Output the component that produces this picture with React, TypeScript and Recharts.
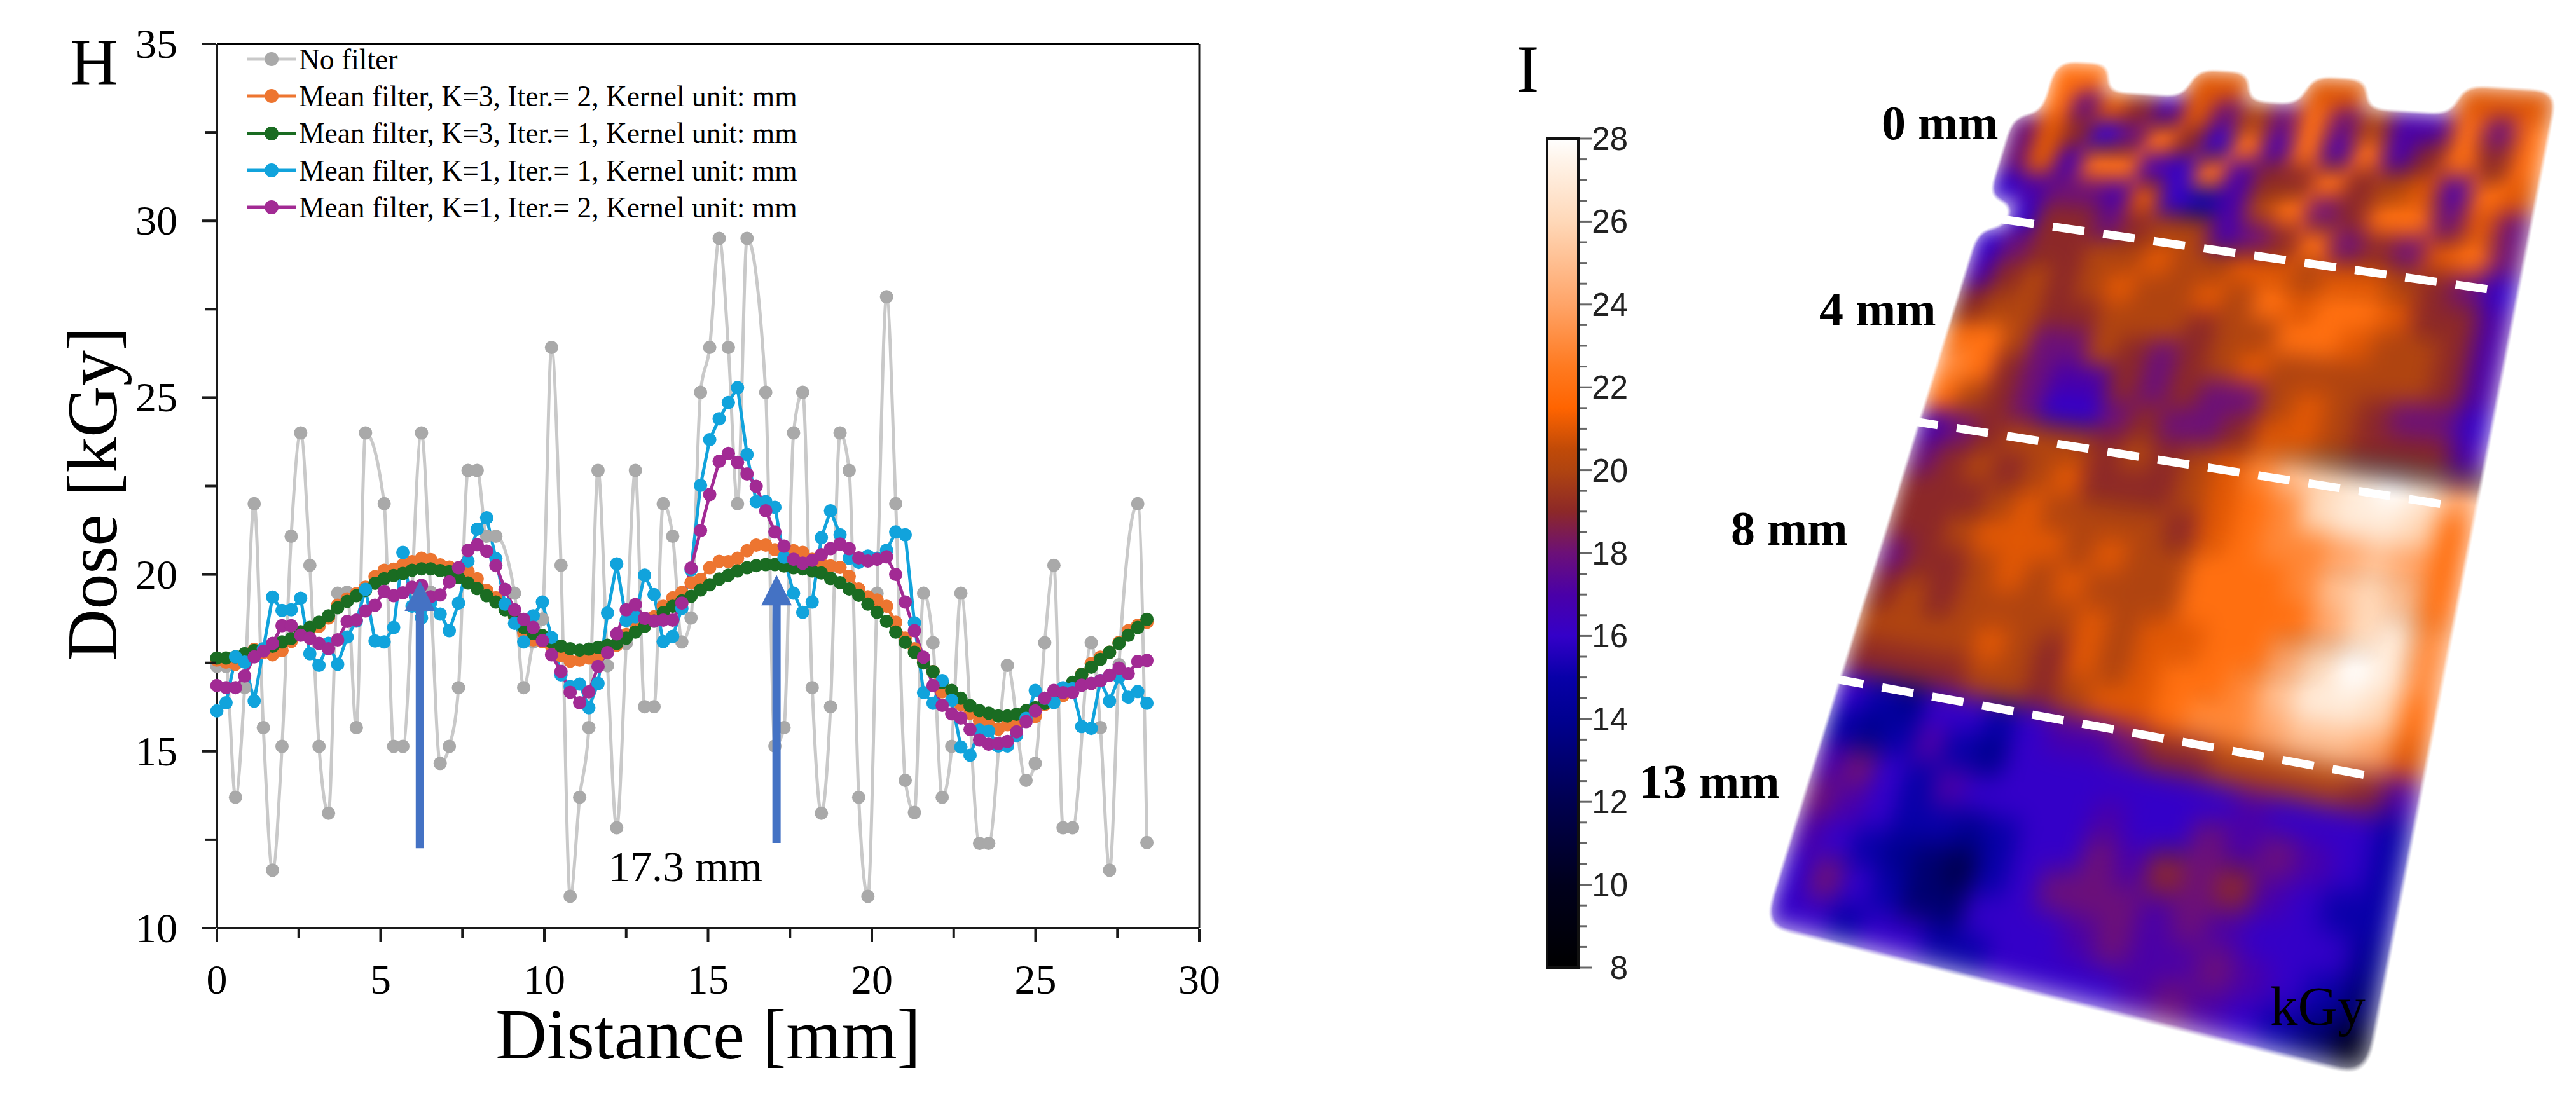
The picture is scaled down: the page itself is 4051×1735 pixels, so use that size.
import {
  BarChart, Bar, LineChart, Line, ScatterChart, Scatter, XAxis, YAxis, Legend,
  ReferenceLine, ReferenceDot, Label,
} from 'recharts';

const distance = [0, 0.28, 0.57, 0.85, 1.14, 1.42, 1.7, 1.99, 2.27, 2.56, 2.84, 3.12, 3.41, 3.69, 3.98, 4.26, 4.54, 4.83, 5.11, 5.4, 5.68, 5.96, 6.25, 6.53, 6.82, 7.1, 7.38, 7.67, 7.95, 8.24, 8.52, 8.8, 9.09, 9.37, 9.66, 9.94, 10.22, 10.51, 10.79, 11.08, 11.36, 11.64, 11.93, 12.21, 12.5, 12.78, 13.06, 13.35, 13.63, 13.92, 14.2, 14.48, 14.77, 15.05, 15.34, 15.62, 15.9, 16.19, 16.47, 16.76, 17.04, 17.32, 17.61, 17.89, 18.18, 18.46, 18.74, 19.03, 19.31, 19.6, 19.88, 20.16, 20.45, 20.73, 21.02, 21.3, 21.58, 21.87, 22.15, 22.44, 22.72, 23, 23.29, 23.57, 23.86, 24.14, 24.42, 24.71, 24.99, 25.28, 25.56, 25.84, 26.13, 26.41, 26.7, 26.98, 27.26, 27.55, 27.83, 28.12, 28.4];

// null = marker not visible in the figure, line just runs over it
const noFilter = [17.4, 17.4, 13.7, 16.8, 22, 15.67, 11.64, 15.14, 21.08, 24, 20.26, 15.14, 13.25, 19.47, 19.5, 15.67, 24, null, 22, 15.14, 15.14, null, 24, 19.5, 14.66, 15.14, 16.8, 22.94, 22.94, 21.08, 21.08, null, 19.47, 16.8, 18.09, 18.74, 26.42, 20.26, 10.9, 13.7, 15.67, 22.94, 17.42, 12.84, 18.05, 22.94, 16.26, 16.26, 22, 21.08, 18.09, 18.77, 25.15, 26.42, 29.5, 26.42, 22, 29.5, null, 25.15, 15.15, 15.67, 24, 25.15, 16.8, 13.25, 16.26, 24, 22.94, 13.7, 10.9, 19.47, 27.85, 22, 14.18, 13.27, 19.47, 18.07, 13.7, 15.14, 19.47, null, 12.4, 12.4, null, 17.43, null, 14.18, 14.66, 18.07, 20.26, 12.84, 12.84, null, 18.07, 15.67, 11.64, 17.45, null, 22, 12.42];

const meanK3Iter2 = [17.58, 17.52, 17.46, 17.67, 17.88, 17.79, 17.73, 17.85, 18.11, 18.3, 18.45, 18.53, 18.77, 19.13, 19.31, 19.46, 19.64, 19.94, 20.12, 20.15, 20.27, 20.36, 20.46, 20.42, 20.27, 20.21, 20.05, 20.09, 19.88, 19.55, 19.34, 19.1, 18.8, 18.35, 18.15, 18.1, 17.97, 17.7, 17.55, 17.58, 17.64, 17.7, 17.87, 18, 18.3, 18.6, 18.74, 18.8, 19.1, 19.34, 19.49, 19.77, 19.86, 20.19, 20.37, 20.36, 20.46, 20.67, 20.83, 20.83, 20.7, 20.67, 20.67, 20.62, 20.43, 20.3, 20.24, 20.2, 19.95, 19.59, 19.37, 19.28, 19.1, 18.65, 18.2, 17.9, 17.6, 17.25, 16.68, 16.6, 16.32, 16.08, 15.87, 15.78, 15.63, 15.75, 15.8, 15.9, 15.99, 16.32, 16.58, 16.58, 16.87, 17.18, 17.48, 17.66, 17.8, 18.08, 18.41, 18.56, 18.65];

const meanK3Iter1 = [17.64, 17.64, 17.67, 17.76, 17.85, 17.88, 17.97, 18.09, 18.19, 18.38, 18.5, 18.65, 18.83, 19.06, 19.24, 19.4, 19.55, 19.75, 19.88, 19.97, 20.03, 20.12, 20.16, 20.16, 20.11, 20.08, 19.91, 19.76, 19.6, 19.4, 19.22, 19, 18.83, 18.5, 18.33, 18.27, 18.09, 17.97, 17.9, 17.86, 17.89, 17.94, 18, 18.05, 18.2, 18.37, 18.53, 18.68, 18.92, 19.1, 19.25, 19.38, 19.56, 19.71, 19.87, 19.98, 20.1, 20.19, 20.25, 20.28, 20.28, 20.24, 20.19, 20.16, 20.1, 20.04, 19.89, 19.77, 19.59, 19.41, 19.16, 18.93, 18.67, 18.37, 18.08, 17.8, 17.5, 17.25, 16.95, 16.72, 16.5, 16.29, 16.15, 16.08, 16, 16, 16.05, 16.15, 16.23, 16.35, 16.59, 16.77, 16.95, 17.17, 17.38, 17.6, 17.8, 18.05, 18.28, 18.5, 18.73];

const meanK1Iter1 = [16.14, 16.37, 17.67, 17.52, 16.42, 17.9, 19.36, 18.98, 19, 19.33, 17.76, 17.43, 18.05, 17.46, 18.23, 18.68, 19.58, 18.12, 18.09, 18.5, 20.62, 19.1, 18.77, 19.2, 18.88, 18.41, 19.19, 20.38, 21.28, 21.6, 20.45, 19.16, 18.62, 18.09, 18.83, 19.22, 18.22, 17.16, 16.83, 16.9, 16.23, 16.92, 18.91, 20.3, 18.7, 18.8, 19.98, 19.43, 18.1, 18.25, 19.04, 20.13, 22.52, 23.81, 24.4, 24.86, 25.28, 23.39, 22.06, 22.06, 21.9, 20.49, 19.47, 18.93, 19.22, 21.04, 21.8, 21.12, 20.46, 20.34, 20.52, 20.46, 20.68, 21.2, 21.12, 18.63, 16.66, 16.36, 17, 16.44, 15.12, 14.89, 15.6, 15.57, 15.15, 15.15, 15.45, 15.93, 16.72, 16.5, 16.38, 16.8, 16.77, 15.7, 15.65, 17, 16.42, 17.1, 16.53, 16.69, 16.36];

const meanK1Iter2 = [16.86, 16.8, 16.8, 17.13, 17.67, 17.83, 18.05, 18.55, 18.55, 18.28, 18.2, 18.05, 17.9, 18.15, 18.67, 18.71, 18.97, 19.13, 19.52, 19.4, 19.48, 19.64, 19.69, 19.37, 19.42, 19.79, 20.19, 20.68, 20.84, 20.66, 20.25, 19.58, 19, 18.73, 18.5, 18.13, 17.73, 17.26, 16.67, 16.37, 16.68, 17.4, 17.79, 18.32, 19, 19.15, 18.76, 18.68, 18.71, 18.71, 19.19, 20.18, 21.24, 22.26, 23.2, 23.42, 23.17, 22.84, 22.49, 21.8, 21.2, 20.8, 20.43, 20.32, 20.4, 20.56, 20.73, 20.86, 20.73, 20.47, 20.38, 20.43, 20.5, 20, 19.22, 18.41, 17.66, 16.86, 16.3, 16.06, 15.94, 15.62, 15.32, 15.2, 15.22, 15.28, 15.55, 15.84, 16.14, 16.5, 16.72, 16.66, 16.66, 16.87, 16.92, 17, 17.15, 17.35, 17.2, 17.54, 17.57];

const xTicks = [0, 2.5, 5, 7.5, 10, 12.5, 15, 17.5, 20, 22.5, 25, 27.5, 30];
const yTicks = [10, 12.5, 15, 17.5, 20, 22.5, 25, 27.5, 30, 32.5, 35];
const barTicks = [8, 8.5, 9, 9.5, 10, 10.5, 11, 11.5, 12, 12.5, 13, 13.5, 14, 14.5, 15, 15.5, 16, 16.5, 17, 17.5, 18, 18.5, 19, 19.5, 20, 20.5, 21, 21.5, 22, 22.5, 23, 23.5, 24, 24.5, 25, 25.5, 26, 26.5, 27, 27.5, 28];

// colour scale of panel I
const scaleDose = [8, 10, 12, 14, 15, 16, 17, 18, 19, 20, 20.5, 21.5, 22.5, 24, 26, 27.5, 28];
const scaleColor = ['#000000', '#00001c', '#000050', '#000090', '#0800a8', '#3400c8', '#4a00a8', '#6c1078', '#8c2828', '#b04410', '#c04a08', '#ff6400', '#ff7a20', '#ffa468', '#ffd8b8', '#fff4ea', '#ffffff'];

// panel I, dose per patch of the surface, back row first (null = above the surface edge)
const surfaceRows = [
  [null, 22, 22, null, null, null, 21, 21, null, null, 21, 21, null, null, null, 21, 21, 21],
  [null, 22, 18, 21, 19, 17, 21, 18, 20, 18, 22, 18, 20, 17, 17, 22, 18, 22],
  [18, 21, 19, 16, 18, 22, 19, 16, 22, 17, 22, 17, 22, 17, 19, 22, 19, 22],
  [18, 21, 17, 22, 22, 17, 16, 22, 17, 19, 19, 22, 19, 20, 21, 17, 22, 21],
  [16, 17, 18, 18, 17, 21, 16, 15, 17, 20, 22, 18, 19, 22, 22, 18, 21, 18],
  [null, 16, 19, 19, 18, 19, 20, 20, 17, 18, 19, 22, 18, 19, 18, 21, 22, 18],
  [16, 18, 19, 19, 20, 20, 21, 20, 20, 21, 21, 20, 21, 21, 20, 19, 18, 16],
  [17, 19, 20, 19, 20, 21, 20, 20, 21, 20, 22, 21, 22, 22, 21, 19, 19, 17],
  [19, 20, 20, 19, 19, 20, 20, 20, 19, 20, 20, 22, 22, 21, 20, 20, 19, 17],
  [22, 22, 20, 18, 18, 20, 19, 18, 19, 20, 21, 20, 20, 20, 20, 20, 19, 17],
  [23, 22, 19, 18, 17, 17, 19, 18, 19, 18, 18, 20, 21, 20, 19, 18, 18, 16],
  [22, 20, 19, 18, 16, 16, 18, 19, 18, 18, 19, 21, 21, 20, 19, 19, 19, 17],
  [17, 18, 19, 20, 20, 20, 19, 20, 19, 20, 21, 23, 25, 26, 27, 28, 27, 24],
  [18, 19, 20, 19, 20, 21, 19, 19, 19, 20, 21, 22, 23, 26, 27, 27, 26, 22],
  [19, 19, 19, 20, 21, 20, 20, 20, 20, 19, 21, 22, 23, 23, 24, 25, 24, 22],
  [19, 19, 20, 21, 21, 21, 20, 21, 20, 20, 22, 22, 22, 23, 25, 26, 25, 22],
  [18, 19, 19, 20, 21, 20, 21, 20, 20, 20, 22, 22, 22, 22, 24, 26, 27, 23],
  [19, 20, 19, 20, 20, 20, 20, 21, 20, 21, 21, 22, 22, 24, 26, 28, 27, 23],
  [20, 20, 20, 20, 21, 20, 19, 21, 20, 21, 22, 22, 23, 25, 27, 27, 26, 22],
  [19, 19, 19, 19, 20, 20, 19, 20, 21, 21, 22, 23, 23, 24, 25, 25, 24, 21],
  [16, 15, 14, 16, 16, 15, 16, 17, 17, 18, 19, 19, 20, 20, 20, 20, 19, 17],
  [15, 14, 15, 17, 15, 14, 16, 16, 16, 16, 16, 16, 16, 17, 16, 16, 16, 15],
  [17, 18, 16, 15, 17, 16, 16, 16, 16, 17, 16, 16, 18, 17, 18, 17, 16, 15],
  [18, 17, 16, 15, 15, 14, 15, 16, 16, 18, 17, 19, 18, 19, 17, 16, 15, 15],
  [17, 16, 15, 14, 13, 12, 15, 16, 18, 18, 18, 17, 18, 17, 16, 16, 16, 14],
  [16, 18, 16, 15, 13, 13, 16, 16, 16, 17, 18, 17, 17, 18, 17, 16, 15, 13],
  [16, 16, 15, 16, 16, 15, 15, 16, 16, 16, 16, 17, 18, 17, 16, 15, 13, 10],
];

const chartData = distance.map((d, i) => ({
  distance: d,
  noFilter: noFilter[i],
  k3i2: meanK3Iter2[i],
  k3i1: meanK3Iter1[i],
  k1i1: meanK1Iter1[i],
  k1i2: meanK1Iter2[i],
}));

const surfaceCells = surfaceRows.flatMap((row, r) =>
  row.flatMap((dose, c) => (dose === null ? [] : [{ col: c + 0.5, row: r + 0.5, dose }])),
);

const serif = '"Liberation Serif", serif';
const sans = '"Liberation Sans", sans-serif';
const axisColor = '#1a1a1a';
const arrowBlue = '#4472C4';

const SURF_W = 900;
const SURF_H = 1350;

function doseColor(dose: number) {
  let i = 0;
  while (i < scaleDose.length - 2 && dose > scaleDose[i + 1]) i++;
  const t = Math.min(1, Math.max(0, (dose - scaleDose[i]) / (scaleDose[i + 1] - scaleDose[i])));
  const mix = (k: number) => {
    const a = parseInt(scaleColor[i].slice(k, k + 2), 16);
    const b = parseInt(scaleColor[i + 1].slice(k, k + 2), 16);
    return Math.round(a + (b - a) * t);
  };
  return `rgb(${mix(1)},${mix(3)},${mix(5)})`;
}

// maps the flat heat map onto the tilted quad of the 3D view
function quadTransform(w: number, h: number, p: number[][]) {
  const [[x0, y0], [x1, y1], [x2, y2], [x3, y3]] = p;
  const dx1 = x1 - x2, dx2 = x3 - x2, sx = x0 - x1 + x2 - x3;
  const dy1 = y1 - y2, dy2 = y3 - y2, sy = y0 - y1 + y2 - y3;
  const den = dx1 * dy2 - dx2 * dy1;
  const g = (sx * dy2 - dx2 * sy) / den;
  const k = (dx1 * sy - sx * dy1) / den;
  const a = x1 - x0 + g * x1, b = x3 - x0 + k * x3;
  const d = y1 - y0 + g * y1, e = y3 - y0 + k * y3;
  return `matrix3d(${a / w},${d / w},0,${g / w},${b / h},${e / h},0,${k / h},0,0,1,0,${x0},${y0},0,1)`;
}

const YTick = ({ x, y, payload }: any) => {
  const major = payload.value % 5 === 0;
  return (
    <g>
      <line x1={x - (major ? 21 : 16)} x2={x} y1={y} y2={y} stroke={axisColor} strokeWidth={4} />
      {major && (
        <text x={x - 60} y={y + 22} textAnchor="end" fontSize={66} fontFamily={serif} fill="#000">
          {payload.value}
        </text>
      )}
    </g>
  );
};

const XTick = ({ x, y, payload }: any) => {
  const major = payload.value % 5 === 0;
  return (
    <g>
      <line x1={x} x2={x} y1={y} y2={y + (major ? 20 : 14)} stroke={axisColor} strokeWidth={4} />
      {major && (
        <text x={x} y={y + 101} textAnchor="middle" fontSize={66} fontFamily={serif} fill="#000">
          {payload.value}
        </text>
      )}
    </g>
  );
};

const BarTick = ({ x, y, payload }: any) => {
  const major = payload.value % 2 === 0;
  return (
    <g>
      <line x1={x} x2={x + (major ? 19 : 11)} y1={y} y2={y} stroke="#666" strokeWidth={3} />
      {major && (
        <text x={x + 76} y={y + 18} textAnchor="end" fontSize={51} fontFamily={sans} fill="#222">
          {payload.value}
        </text>
      )}
    </g>
  );
};

const ArrowHead = ({ cx, cy }: any) => (
  <polygon points={`${cx},${cy} ${cx + 24},${cy + 48} ${cx - 24},${cy + 48}`} fill={arrowBlue} />
);

const SurfaceCell = ({ cx, cy, payload }: any) => {
  const w = SURF_W / 18 + 2;
  const h = SURF_H / surfaceRows.length + 2;
  return <rect x={cx - w / 2} y={cy - h / 2} width={w} height={h} fill={doseColor(payload.dose)} />;
};

const LegendRows = ({ payload }: any) => (
  <div>
    {(payload || []).map((item: any) => (
      <div key={item.value} style={{ height: 58.3, display: 'flex', alignItems: 'center' }}>
        <svg width={81} height={30}>
          <line x1={0} x2={77} y1={15} y2={15} stroke={item.payload.stroke} strokeWidth={5} />
          <circle cx={38} cy={15} r={11} fill={item.payload.dot.fill} />
        </svg>
        <span style={{ fontFamily: serif, fontSize: 45.5, color: '#000', whiteSpace: 'nowrap' }}>{item.value}</span>
      </div>
    ))}
  </div>
);

function seriesLine(key: string, name: string, stroke: string, fill: string, smooth = false) {
  return (
    <Line
      key={key}
      dataKey={key}
      name={name}
      type={smooth ? 'monotone' : 'linear'}
      stroke={stroke}
      strokeWidth={5}
      connectNulls
      dot={{ r: 10.5, fill, stroke: fill, strokeWidth: 0 }}
      activeDot={false}
      isAnimationActive={false}
    />
  );
}

export default function App() {
  return (
    <div style={{ position: 'absolute', left: 0, top: 0, width: 4051, height: 1735, background: '#fff', overflow: 'hidden' }}>
      <div style={{ position: 'absolute', left: 0, top: 0 }}>
        <LineChart width={1950} height={1735} data={chartData} margin={{ top: 69, right: 64, bottom: 0, left: 0 }}>
          <XAxis
            type="number"
            dataKey="distance"
            domain={[0, 30]}
            ticks={xTicks}
            interval={0}
            height={275}
            tickSize={0}
            tick={XTick}
            axisLine={{ stroke: axisColor, strokeWidth: 4 }}
          >
            <Label value="Distance [mm]" position="insideBottom" offset={70} fontSize={112} fontFamily={serif} fill="#000" />
          </XAxis>
          <YAxis
            type="number"
            domain={[10, 35]}
            ticks={yTicks}
            interval={0}
            width={341}
            tickSize={0}
            tick={YTick}
            axisLine={{ stroke: axisColor, strokeWidth: 4 }}
          >
            <Label value="Dose [kGy]" angle={-90} position="insideLeft" offset={143} dy={12} textAnchor="middle" fontSize={112} fontFamily={serif} fill="#000" />
          </YAxis>
          <ReferenceLine y={35} stroke="#000" strokeWidth={4} />
          <ReferenceLine x={30} stroke={axisColor} strokeWidth={3} />
          <Legend
            layout="vertical"
            align="center"
            verticalAlign="middle"
            itemSorter={null}
            content={LegendRows}
            wrapperStyle={{ left: 389, top: 64, width: 900, height: 300 }}
          />
          {seriesLine('noFilter', 'No filter', '#C9C9C9', '#A9A9A9', true)}
          {seriesLine('k3i2', 'Mean filter, K=3, Iter.= 2, Kernel unit: mm', '#ED7530', '#ED7530')}
          {seriesLine('k3i1', 'Mean filter, K=3, Iter.= 1, Kernel unit: mm', '#1A6C22', '#1A6C22')}
          {seriesLine('k1i1', 'Mean filter, K=1, Iter.= 1, Kernel unit: mm', '#11A3DC', '#11A3DC')}
          {seriesLine('k1i2', 'Mean filter, K=1, Iter.= 2, Kernel unit: mm', '#A22A94', '#A22A94')}
        </LineChart>
      </div>

      {/* same plot box again, only so the arrows sit on top of the lines */}
      <div style={{ position: 'absolute', left: 0, top: 0 }}>
        <LineChart width={1950} height={1735} data={chartData} margin={{ top: 69, right: 64, bottom: 0, left: 0 }}>
          <XAxis type="number" dataKey="distance" domain={[0, 30]} height={275} tick={false} axisLine={false} tickLine={false} />
          <YAxis type="number" domain={[10, 35]} width={341} tick={false} axisLine={false} tickLine={false} />
          <Line dataKey="k1i2" stroke="none" dot={false} activeDot={false} legendType="none" isAnimationActive={false} />
          <ReferenceLine segment={[{ x: 6.2, y: 12.26 }, { x: 6.2, y: 19 }]} stroke={arrowBlue} strokeWidth={13} />
          <ReferenceDot x={6.2} y={19.83} r={1} shape={ArrowHead} />
          <ReferenceLine segment={[{ x: 17.09, y: 12.41 }, { x: 17.09, y: 19.15 }]} stroke={arrowBlue} strokeWidth={13} />
          <ReferenceDot x={17.09} y={19.99} r={1} shape={ArrowHead} />
        </LineChart>
      </div>

      <div style={{ position: 'absolute', left: 2432, top: 188 }}>
        <BarChart
          width={170}
          height={1364}
          data={[{ name: 'kGy', range: [8, 28] }]}
          margin={{ top: 30, right: 0, bottom: 30, left: 0 }}
          barCategoryGap={0}
        >
          <defs>
            <linearGradient id="doseScale" x1="0" y1="1" x2="0" y2="0">
              {scaleDose.map((dose, i) => (
                <stop key={dose} offset={(dose - 8) / 20} stopColor={scaleColor[i]} />
              ))}
            </linearGradient>
          </defs>
          <XAxis dataKey="name" hide />
          <YAxis
            orientation="right"
            type="number"
            domain={[8, 28]}
            ticks={barTicks}
            interval={0}
            width={120}
            tickSize={0}
            tick={BarTick}
            axisLine={false}
          />
          <Bar dataKey="range" fill="url(#doseScale)" stroke="#111" strokeWidth={4} isAnimationActive={false} />
        </BarChart>
      </div>

      <svg width={0} height={0} style={{ position: 'absolute' }}>
        <filter id="surfaceSoft" x="-5%" y="-5%" width="110%" height="110%" colorInterpolationFilters="sRGB">
          <feGaussianBlur in="SourceGraphic" stdDeviation={17} result="soft" />
          <feGaussianBlur in="soft" stdDeviation={8} result="softer" />
          <feColorMatrix in="softer" type="luminanceToAlpha" result="height" />
          <feDiffuseLighting in="height" surfaceScale={26} diffuseConstant={1.12} lightingColor="#fff" result="rawLight">
            <feDistantLight azimuth={90} elevation={62} />
          </feDiffuseLighting>
          <feGaussianBlur in="rawLight" stdDeviation={5} result="blurLight" />
          <feComponentTransfer in="blurLight" result="light">
            <feFuncR type="linear" slope={0.6} intercept={0.42} />
            <feFuncG type="linear" slope={0.6} intercept={0.42} />
            <feFuncB type="linear" slope={0.6} intercept={0.42} />
          </feComponentTransfer>
          <feBlend in="soft" in2="light" mode="multiply" result="lit" />
          <feComponentTransfer in="soft" result="edge">
            <feFuncA type="linear" slope={7} intercept={-3} />
          </feComponentTransfer>
          <feComposite in="lit" in2="edge" operator="in" />
        </filter>
      </svg>
      <div
        style={{
          position: 'absolute',
          left: 0,
          top: 0,
          width: SURF_W,
          height: SURF_H,
          transformOrigin: '0 0',
          transform: quadTransform(SURF_W, SURF_H, [[3194, 94], [4021, 144], [3721, 1692], [2775, 1455]]),
        }}
      >
        <div style={{ filter: 'url(#surfaceSoft)', width: SURF_W, height: SURF_H }}>
          <ScatterChart width={SURF_W} height={SURF_H} margin={{ top: 0, right: 0, bottom: 0, left: 0 }}>
            <XAxis type="number" dataKey="col" domain={[0, 18]} hide />
            <YAxis type="number" dataKey="row" domain={[0, surfaceRows.length]} reversed hide />
            <Scatter data={surfaceCells} shape={SurfaceCell} isAnimationActive={false} />
          </ScatterChart>
        </div>
      </div>

      <svg width={4051} height={1735} style={{ position: 'absolute', left: 0, top: 0, pointerEvents: 'none' }} fontFamily={serif}>
        <text x={110} y={133} fontSize={104}>H</text>
        <text x={2385} y={144} fontSize={106}>I</text>
        <text x={957} y={1386} fontSize={68}>17.3 mm</text>
        <text x={2959} y={219} fontSize={76} fontWeight="bold">0 mm</text>
        <text x={2861} y={512} fontSize={76} fontWeight="bold">4 mm</text>
        <text x={2722} y={857} fontSize={76} fontWeight="bold">8 mm</text>
        <text x={2577} y={1255} fontSize={76} fontWeight="bold">13 mm</text>
        <text x={3570} y={1612} fontSize={87}>kGy</text>
        <line x1={3149} y1={345} x2={3920} y2={456} stroke="#fff" strokeWidth={13} strokeDasharray="50 30" />
        <line x1={2998} y1={661} x2={3859} y2={796} stroke="#fff" strokeWidth={13} strokeDasharray="50 30" />
        <line x1={2881} y1={1067} x2={3736} y2={1222} stroke="#fff" strokeWidth={13} strokeDasharray="50 30" />
      </svg>
    </div>
  );
}
